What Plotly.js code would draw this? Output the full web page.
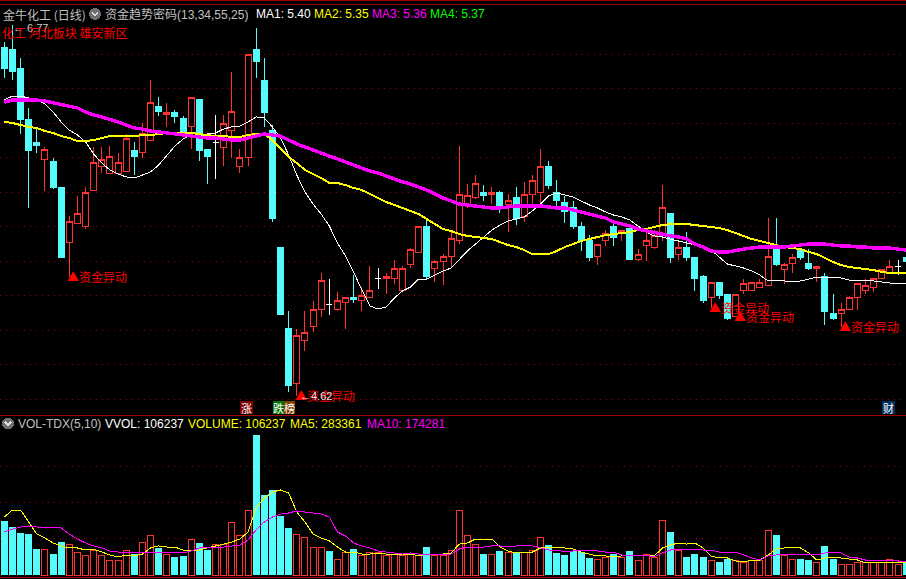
<!DOCTYPE html>
<html><head><meta charset="utf-8">
<script src="https://cdn.plot.ly/plotly-3.0.1.min.js"></script>
<style>
html,body{margin:0;padding:0;background:#000;overflow:hidden}
#c{width:906px;height:579px}
.js-plotly-plot .plotly path{shape-rendering:crispEdges}
</style></head><body><div id="c"></div>
<script>
const open=[6.64,6.63,6.52,6.22,6.09,5.99,5.98,5.83,5.51,5.62,
5.60,5.81,5.95,5.91,5.91,5.92,6.04,6.03,6.10,6.30,
6.25,6.26,6.23,6.18,6.34,6.05,6.09,6.06,6.16,5.95,
6.00,6.63,6.45,6.16,5.48,5.01,4.69,4.94,5.02,5.12,
5.15,5.12,5.16,5.19,5.17,5.19,5.30,5.30,5.30,5.23,
5.38,5.45,5.60,5.36,5.40,5.43,5.52,5.73,5.77,5.80,
5.79,5.80,5.73,5.77,5.66,5.79,5.80,5.95,5.80,5.74,
5.71,5.60,5.52,5.43,5.52,5.60,5.57,5.59,5.41,5.49,
5.48,5.55,5.68,5.44,5.48,5.42,5.31,5.19,5.28,5.21,
5.08,5.23,5.23,5.25,5.26,5.47,5.35,5.39,5.47,5.39,
5.36,5.31,5.10,5.10,5.12,5.19,5.23,5.25,5.30,5.33,
5.37,5.42];
const close=[6.52,6.50,6.22,6.04,6.07,6.05,5.83,5.42,5.63,5.68,
5.80,5.97,5.99,6.01,5.97,6.11,6.01,6.14,6.32,6.27,
6.26,6.24,6.14,6.35,6.04,6.01,6.09,6.20,6.27,6.00,
6.60,6.56,6.26,5.65,5.09,4.68,4.97,4.99,5.12,5.29,
5.15,5.17,5.19,5.18,5.20,5.23,5.30,5.31,5.36,5.36,
5.47,5.60,5.31,5.40,5.43,5.53,5.79,5.78,5.85,5.78,
5.80,5.72,5.75,5.65,5.79,5.87,5.95,5.84,5.75,5.69,
5.60,5.52,5.42,5.50,5.56,5.54,5.58,5.41,5.44,5.52,
5.55,5.71,5.42,5.48,5.42,5.30,5.17,5.28,5.20,5.07,
5.21,5.27,5.28,5.28,5.43,5.38,5.38,5.42,5.42,5.36,
5.37,5.11,5.07,5.12,5.19,5.27,5.26,5.30,5.35,5.37,
5.37,5.40];
const high=[6.67,6.77,6.58,6.29,6.17,6.06,6.00,5.83,5.66,5.78,
5.83,6.06,6.06,6.07,6.03,6.14,6.09,6.20,6.45,6.35,
6.32,6.28,6.24,6.35,6.34,6.05,6.25,6.25,6.50,6.05,
6.60,6.75,6.58,6.19,5.48,5.11,5.01,5.11,5.17,5.33,
5.30,5.22,5.19,5.32,5.25,5.37,5.36,5.33,5.41,5.37,
5.48,5.60,5.64,5.41,5.44,5.57,6.07,5.85,5.90,5.84,
5.83,5.81,5.79,5.83,5.86,5.90,6.05,5.98,5.87,5.78,
5.75,5.63,5.55,5.50,5.58,5.62,5.58,5.59,5.47,5.57,
5.58,5.84,5.68,5.52,5.57,5.42,5.32,5.28,5.28,5.21,
5.21,5.30,5.28,5.30,5.65,5.65,5.39,5.44,5.48,5.47,
5.37,5.33,5.21,5.16,5.20,5.27,5.30,5.30,5.35,5.41,
5.41,5.42];
const low=[6.46,6.45,6.14,5.71,6.03,5.81,5.82,5.42,5.31,5.62,
5.59,5.81,5.91,5.91,5.90,5.92,5.90,6.00,6.10,6.24,
6.18,6.20,6.13,6.05,5.98,5.85,5.88,5.95,6.00,5.91,
5.95,6.46,6.18,5.63,5.09,4.64,4.62,4.88,4.99,5.08,
5.09,5.11,5.01,5.16,5.11,5.19,5.24,5.21,5.27,5.22,
5.36,5.45,5.29,5.28,5.26,5.36,5.50,5.71,5.76,5.75,
5.73,5.68,5.57,5.61,5.63,5.73,5.74,5.82,5.72,5.62,
5.59,5.46,5.40,5.38,5.49,5.49,5.52,5.41,5.40,5.40,
5.47,5.52,5.39,5.41,5.40,5.23,5.16,5.13,5.18,5.06,
5.08,5.21,5.23,5.25,5.26,5.37,5.27,5.33,5.41,5.35,
5.28,5.03,5.06,5.02,5.12,5.12,5.21,5.22,5.30,5.33,
5.32,5.40];
const ma1=[6.335,6.358,6.358,6.347,6.335,6.312,6.266,6.208,6.161,6.132,
6.092,6.022,5.970,5.929,5.906,5.889,5.883,5.900,5.918,5.958,
6.016,6.068,6.109,6.132,6.132,6.138,6.144,6.167,6.179,6.184,
6.208,6.237,6.231,6.179,6.115,6.016,5.900,5.802,5.732,5.674,
5.605,5.506,5.431,5.338,5.234,5.141,5.123,5.135,5.187,5.228,
5.251,5.297,5.297,5.320,5.344,5.361,5.413,5.460,5.500,5.541,
5.581,5.610,5.634,5.645,5.657,5.692,5.732,5.779,5.796,5.785,
5.773,5.750,5.727,5.709,5.686,5.668,5.657,5.639,5.605,5.570,
5.547,5.541,5.529,5.518,5.506,5.494,5.483,5.465,5.425,5.384,
5.373,5.361,5.344,5.320,5.286,5.286,5.286,5.280,5.286,5.297,
5.309,5.309,5.309,5.303,5.291,5.291,5.291,5.286,5.280,5.274,
5.274,5.268];
const ma2=[6.208,6.202,6.190,6.179,6.173,6.155,6.144,6.126,6.115,6.097,
6.097,6.103,6.115,6.126,6.126,6.126,6.126,6.132,6.132,6.138,
6.144,6.144,6.144,6.144,6.138,6.132,6.126,6.126,6.121,6.121,
6.132,6.138,6.138,6.103,6.057,6.005,5.970,5.930,5.906,5.883,
5.854,5.854,5.842,5.825,5.813,5.790,5.767,5.744,5.727,5.709,
5.692,5.674,5.645,5.616,5.587,5.576,5.558,5.547,5.541,5.535,
5.529,5.512,5.494,5.483,5.465,5.442,5.442,5.442,5.460,5.483,
5.500,5.518,5.529,5.541,5.552,5.558,5.564,5.570,5.581,5.587,
5.599,5.610,5.616,5.616,5.616,5.610,5.605,5.599,5.593,5.581,
5.564,5.547,5.529,5.518,5.506,5.494,5.483,5.477,5.471,5.454,
5.442,5.419,5.396,5.378,5.367,5.361,5.355,5.349,5.338,5.332,
5.332,5.332];
const ma3=[6.323,6.335,6.335,6.335,6.335,6.329,6.318,6.312,6.300,6.289,
6.266,6.248,6.237,6.225,6.208,6.190,6.173,6.167,6.155,6.150,
6.144,6.138,6.132,6.126,6.121,6.115,6.115,6.109,6.103,6.103,
6.115,6.126,6.138,6.132,6.126,6.103,6.080,6.063,6.045,6.028,
6.010,5.993,5.976,5.958,5.941,5.923,5.912,5.894,5.877,5.860,
5.848,5.831,5.813,5.790,5.767,5.750,5.732,5.726,5.721,5.715,
5.709,5.709,5.715,5.721,5.721,5.721,5.721,5.715,5.709,5.709,
5.697,5.686,5.674,5.663,5.651,5.628,5.616,5.605,5.587,5.576,
5.570,5.558,5.547,5.541,5.529,5.500,5.483,5.460,5.454,5.454,
5.465,5.471,5.477,5.483,5.483,5.483,5.483,5.489,5.494,5.500,
5.500,5.500,5.494,5.489,5.489,5.483,5.483,5.477,5.477,5.477,
5.471,5.465];
const volumeK=[454,403,353,344,218,218,176,277,260,193,
160,210,160,126,118,210,176,269,336,227,
176,151,160,302,269,210,260,260,437,336,
538,1176,672,714,496,395,344,311,235,235,
202,134,193,218,160,193,185,168,176,160,
176,168,235,160,160,202,546,328,260,176,
176,202,185,185,193,210,311,252,185,168,
202,193,143,134,151,176,151,202,126,176,
151,454,361,202,151,176,151,126,109,134,
118,109,126,126,370,336,160,134,134,126,
101,244,134,92,92,101,101,101,109,134,
92,109];
const volMa5=[487,546,546,445,344,311,269,244,227,227,
210,218,193,168,151,168,160,176,227,244,
235,235,210,202,210,227,244,260,277,302,
361,563,647,697,714,689,529,445,344,311,
286,235,193,193,176,176,185,176,176,168,
176,160,176,176,176,185,260,269,302,302,
302,235,202,185,185,193,227,227,227,227,
218,193,176,160,160,151,160,168,168,168,
160,227,252,269,260,269,227,160,143,143,
118,109,126,126,168,218,227,227,227,185,
126,143,143,143,134,126,101,101,101,109,
109,109];
const volMa10=[361,386,403,412,403,403,403,395,344,302,
269,244,227,202,193,193,193,193,193,193,
193,193,185,202,227,227,227,235,244,252,
294,378,445,487,512,521,538,529,521,512,
487,361,328,269,244,227,202,193,185,176,
185,176,176,176,176,176,218,235,235,235,
244,244,235,244,244,244,227,210,210,193,
202,210,202,202,193,193,168,168,168,168,
151,185,210,218,218,218,210,210,193,193,
193,168,143,126,160,168,176,176,176,176,
168,185,185,185,151,143,126,126,118,118,
118,109];
const volDownOnFlatDays=[40];
const signalDays=[8,36,87,90,103];
const priceGrid=[4.6,4.8,5.0,5.2,5.4,5.6,5.8,6.0,6.2,6.4,6.6];
const volGridK=[308,611,910];

const idx=open.map((_,i)=>i);
const flat=idx.filter(i=>open[i]===close[i]);
const moving=idx.filter(i=>open[i]!==close[i]);
const pick=(a,ids)=>ids.map(i=>a[i]);
const isDownVol=i=>close[i]<open[i]||volDownOnFlatDays.includes(i);
const vDown=idx.filter(isDownVol), vUp=idx.filter(i=>!isDownVol(i));
const RED='#ff3232',CY='#54fcfc';

const traces=[
 {type:'bar',x:vUp,y:pick(volumeK,vUp),yaxis:'y2',width:0.74,
  marker:{color:'#000',line:{color:RED,width:1}},hoverinfo:'skip'},
 {type:'bar',x:vDown,y:pick(volumeK,vDown),yaxis:'y2',width:0.86,
  marker:{color:CY,line:{width:0}},hoverinfo:'skip'},
 {type:'scatter',mode:'lines',x:idx,y:volMa5,yaxis:'y2',line:{color:'#ffff00',width:1}},
 {type:'scatter',mode:'lines',x:idx,y:volMa10,yaxis:'y2',line:{color:'#ff00ff',width:1}},
 {type:'candlestick',x:moving,open:pick(open,moving),high:pick(high,moving),low:pick(low,moving),close:pick(close,moving),
  whiskerwidth:0,
  increasing:{line:{color:RED,width:1},fillcolor:'#000'},
  decreasing:{line:{color:CY,width:1},fillcolor:CY}},
 {type:'candlestick',x:flat,open:pick(open,flat),high:pick(high,flat),low:pick(low,flat),close:pick(close,flat),
  whiskerwidth:0,
  increasing:{line:{color:'#ffffff',width:1},fillcolor:'#fff'},
  decreasing:{line:{color:'#ffffff',width:1},fillcolor:'#fff'}},
 {type:'scatter',mode:'lines',x:idx,y:ma1,line:{color:'#ffffff',width:1}},
 {type:'scatter',mode:'lines',x:idx,y:ma2,line:{color:'#ffff00',width:2}},
 {type:'scatter',mode:'lines',x:idx,y:ma3,line:{color:'#ff00ff',width:3.4}}
];

const W=906,H=579;
const px=x=>x/W, py=y=>1-y/H;
const FONT='"Liberation Sans","Noto Sans CJK SC",sans-serif';
const CJK='"Noto Sans CJK SC","Liberation Sans",sans-serif';
const label=(x,y,text,color,size,family)=>({xref:'paper',yref:'paper',x:px(x),y:py(y),text,showarrow:false,
  xanchor:'left',yanchor:'middle',borderpad:0,borderwidth:0,align:'left',font:{color,size:size||12,family:family||FONT}});
const badge=(x,w,y,text,bg)=>({xref:'paper',yref:'paper',x:px(x),y:py(y),text,showarrow:false,
  xanchor:'left',yanchor:'middle',width:w,height:13,bgcolor:bg,borderpad:0,borderwidth:0,align:'center',
  font:{color:'#ffffff',size:11,family:CJK}});
const GREY='#c0c0c0';
const annotations=[
 ...signalDays.map(i=>({x:i,y:low[i],xref:'x',yref:'y',text:'▲资金异动',showarrow:false,xanchor:'left',yanchor:'middle',
   xshift:-3,borderpad:0,font:{color:'#ff0000',size:12,family:CJK}})),
 {x:1,y:high[1],xref:'x',yref:'y',text:'← 6.77',showarrow:false,xanchor:'left',yanchor:'middle',yshift:-3,borderpad:0,
   font:{color:'#c8c8c8',size:11,family:FONT}},
 {x:36,y:low[36],xref:'x',yref:'y',text:'←4.62',showarrow:false,xanchor:'left',yanchor:'middle',xshift:2,borderpad:0,
   font:{color:'#e0e0e0',size:11,family:FONT}},
 label(2,33,'化工 河北板块 雄安新区','#ff0000',12,CJK),
 label(3,14,'金牛化工 (日线)',GREY,12,CJK),
 label(105,14,'资金趋势密码(13,34,55,25)',GREY,12),
 label(256,14,'MA1: 5.40','#ffffff'),
 label(314,14,'MA2: 5.35','#ffff00'),
 label(372,14,'MA3: 5.36','#ff00ff'),
 label(430,14,'MA4: 5.37','#00ff00'),
 label(18,423.5,'VOL-TDX(5,10)',GREY),
 label(105,423.5,'VVOL: 106237','#ffffff'),
 label(188,423.5,'VOLUME: 106237','#ffff00'),
 label(290,423.5,'MA5: 283361','#ffff00'),
 label(367,423.5,'MA10: 174281','#ff00ff'),
 badge(240,13,407.5,'涨','#7d0000'),
 badge(273,11,407.5,'跌','#007000'),
 badge(284,11,407.5,'榜','#804000'),
 badge(882,13,407.5,'财','#00305f')
];
const hline=y=>({type:'line',xref:'paper',yref:'paper',x0:0,x1:1,y0:py(y),y1:py(y),line:{color:'#a00000',width:1},layer:'above'});
const icon=(cx,cy)=>[
 {type:'circle',xref:'paper',yref:'paper',x0:px(cx-6),x1:px(cx+6),y0:py(cy+6),y1:py(cy-6),fillcolor:'#707070',line:{width:0}},
 {type:'path',xref:'paper',yref:'paper',
  path:`M ${px(cx-3)} ${py(cy-1.5)} L ${px(cx)} ${py(cy+1.5)} L ${px(cx+3)} ${py(cy-1.5)}`,line:{color:'#e0e0e0',width:1.5}}
];
const layout={
 width:W,height:H,margin:{l:0,r:0,t:0,b:0,pad:0},autosize:false,
 paper_bgcolor:'#000',plot_bgcolor:'#000',showlegend:false,hovermode:false,
 barmode:'overlay',boxmode:'overlay',boxgap:0.26,boxgroupgap:0,dragmode:false,
 xaxis:{range:[-0.529,110.98],rangeslider:{visible:false},showgrid:false,zeroline:false,showticklabels:false,showline:false,ticks:'',anchor:'y'},
 yaxis:{domain:[(H-415)/H,(H-4)/H],range:[4.509,6.8916],tickmode:'array',tickvals:priceGrid,showticklabels:false,ticks:'',
  showgrid:true,gridcolor:'#a00000',gridwidth:1,griddash:'1px,5px',zeroline:false,showline:false},
 yaxis2:{domain:[2/H,(H-415)/H],range:[-16.8,1344],tickmode:'array',tickvals:volGridK,showticklabels:false,ticks:'',
  showgrid:true,gridcolor:'#a00000',gridwidth:1,griddash:'1px,5px',zeroline:false,showline:false,anchor:'x'},
 annotations,
 shapes:[hline(0.5),hline(4.5),hline(415.5),hline(577.5),...icon(95,14),...icon(8,423.5)]
};
Plotly.newPlot('c',traces,layout,{staticPlot:true,displayModeBar:false});
</script></body></html>
